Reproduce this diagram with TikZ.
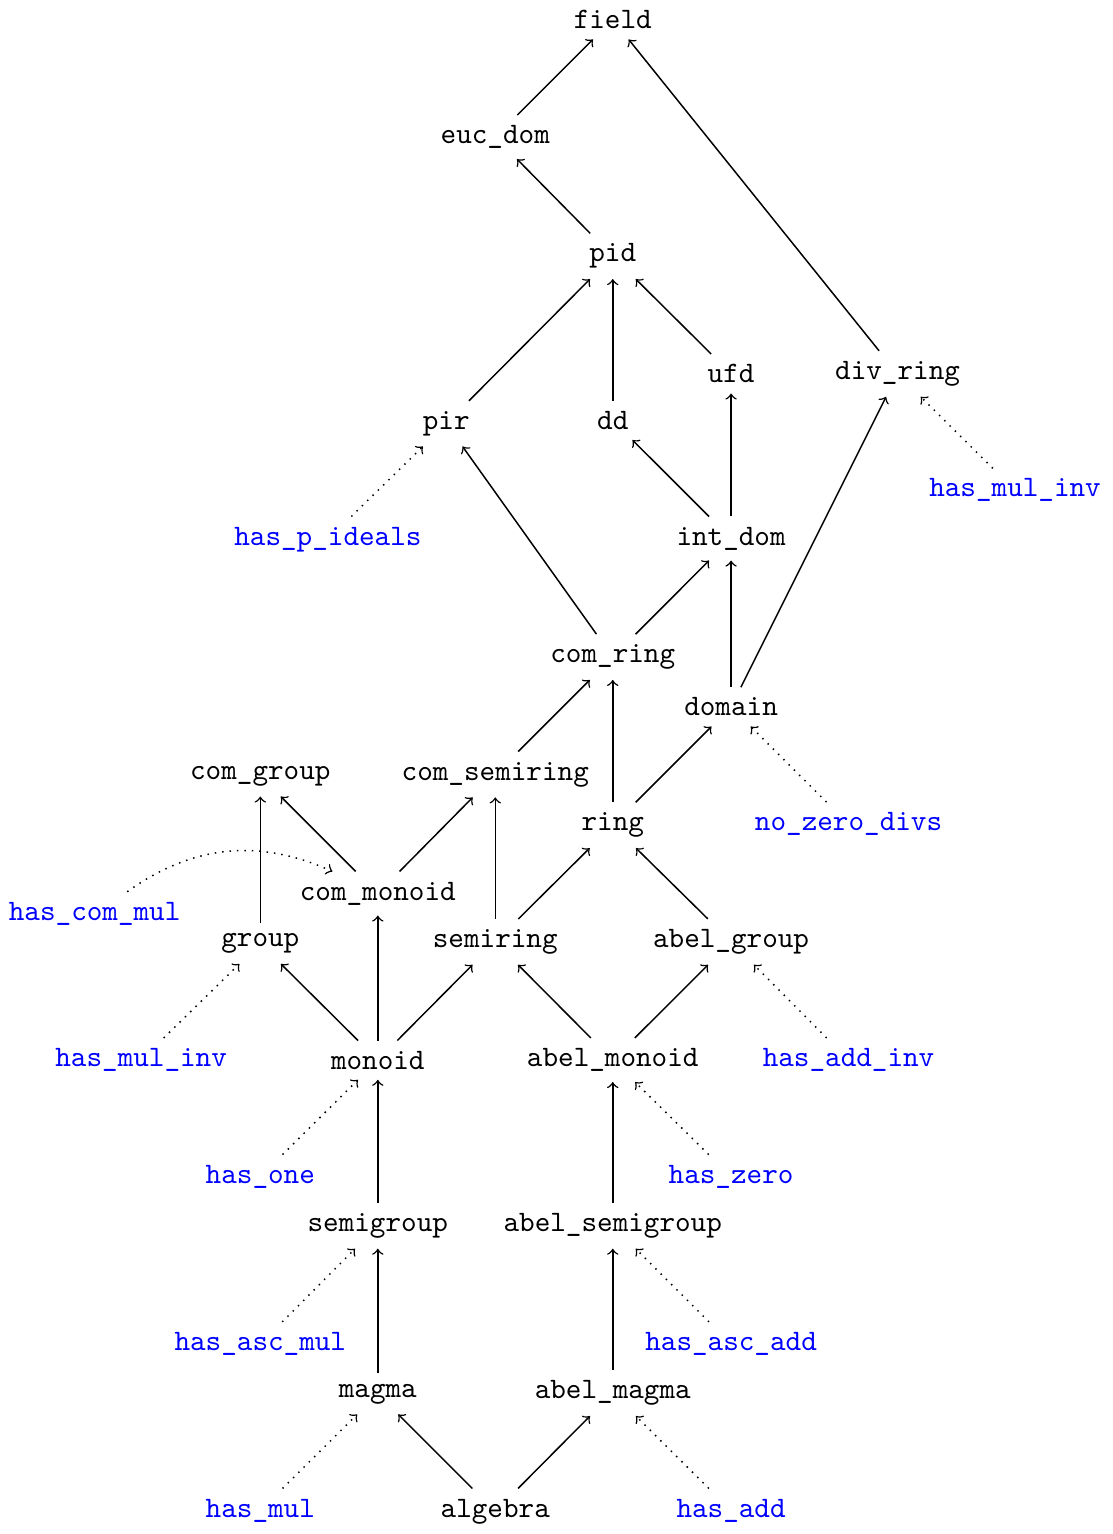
\documentclass[tikz,border=0pt]{standalone}
\usepackage{tikz}
\tikzstyle{cls}=[
font=\ttfamily,
anchor=base
]
\tikzstyle{prop}=[
cls,
text=blue
]
\tikzstyle{arrow}=[
line width=0.5pt,
->
]
\tikzstyle{dotarrow}=[
line width=0.5pt,
->,
dotted
]

\begin{document}
\begin{tikzpicture}

\useasboundingbox (0,0) rectangle (13.16,18.15);

% classes
\node (field) [cls] at (7.25,17.81) {field};
\node (eucdom) [cls] at (5.86,16.45) {euc\_dom};
\node (pid) [cls] at (7.25,15.05) {pid};
\node (ufd) [cls] at (8.65,13.62) {ufd};
\node (divring) [cls] at (10.62,13.66) {div\_ring};
\node (pir) [cls] at (5.28,13.07) {pir};
\node (dd) [cls] at (7.25,13.07) {dd};
\node (intdom) [cls] at (8.65,11.70) {int\_dom};
\node (comring) [cls] at (7.25,10.31) {com\_ring};
\node (domain) [cls] at (8.65,9.68) {domain};
\node (comgroup) [cls] at (3.08,8.93) {com\_group};
\node (comsemiring) [cls] at (5.86,8.92) {com\_semiring};
\node (ring) [cls] at (7.25,8.32) {ring};
\node (commonoid) [cls] at (4.47,7.50) {com\_monoid};
\node (group) [cls] at (3.08,6.95) {group};
\node (semiring) [cls] at (5.86,6.94) {semiring};
\node (abelgroup) [cls] at (8.65,6.94) {abel\_group};
\node (monoid) [cls] at (4.47,5.50) {monoid};
\node (abelmonoid) [cls] at (7.25,5.53) {abel\_monoid};
\node (semigroup) [cls] at (4.47,3.58) {semigroup};
\node (abelsemigroup) [cls] at (7.25,3.58) {abel\_semigroup};
\node (magma) [cls] at (4.47,1.62) {magma};
\node (abelmagma) [cls] at (7.25,1.60) {abel\_magma};
\node (algebra) [cls] at (5.86,0.20) {algebra};

% properties
\node (hasmulinvr) [prop] at (12.01,12.27) {has\_mul\_inv};
\node (haspideals) [prop] at (3.88,11.70) {has\_p\_ideals};
\node (nozerodivs) [prop] at (10.04,8.32) {no\_zero\_divs};
\node (hascommul) [prop] at (1.12,7.26) {has\_com\_mul};
\node (hasmulinvl) [prop] at (1.67,5.53) {has\_mul\_inv};
\node (hasaddinv) [prop] at (10.04,5.53) {has\_add\_inv};
\node (hasone) [prop] at (3.08,4.15) {has\_one};
\node (haszero) [prop] at (8.65,4.15) {has\_zero};
\node (hasascmul) [prop] at (3.08,2.17) {has\_asc\_mul};
\node (hasascadd) [prop] at (8.65,2.17) {has\_asc\_add};
\node (hasmul) [prop] at (3.08,0.20) {has\_mul};
\node (hasadd) [prop] at (8.65,0.20) {has\_add};

\draw [arrow] (eucdom) -- (field);
\draw [arrow] (divring) -- (field);
\draw [arrow] (pid) -- (eucdom);
\draw [arrow] (pir) -- (pid);
\draw [arrow] (dd) -- (pid);
\draw [arrow] (ufd) -- (pid);
\draw [arrow] (comring) -- (pir);
\draw [arrow] (intdom) -- (dd);
\draw [arrow] (intdom) -- (ufd);
\draw [arrow] (domain) -- (divring);
\draw [arrow] (comring) -- (intdom);
\draw [arrow] (domain) -- (intdom);
\draw [arrow] (comsemiring) -- (comring);
\draw [arrow] (ring) -- (comring);
\draw [arrow] (ring) -- (domain);
\draw [arrow] (commonoid) -- (comgroup);
\draw [arrow] (group) -- (comgroup);
\draw [arrow] (commonoid) -- (comsemiring);
\draw [arrow] (semiring) -- (comsemiring);
\draw [arrow] (semiring) -- (ring);
\draw [arrow] (abelgroup) -- (ring);
\draw [arrow] (monoid) -- (group);
\draw [arrow] (monoid) -- (commonoid);
\draw [arrow] (monoid) -- (semiring);
\draw [arrow] (abelmonoid) -- (semiring);
\draw [arrow] (abelmonoid) -- (abelgroup);
\draw [arrow] (semigroup) -- (monoid);
\draw [arrow] (abelsemigroup) -- (abelmonoid);
\draw [arrow] (magma) -- (semigroup);
\draw [arrow] (abelmagma) -- (abelsemigroup);
\draw [arrow] (algebra) -- (magma);
\draw [arrow] (algebra) -- (abelmagma);

\draw [dotarrow] (hasmulinvr) -- (divring);
\draw [dotarrow] (haspideals) -- (pir);
\draw [dotarrow] (nozerodivs) -- (domain);
\draw [dotarrow] (hascommul) to[bend left=30] (commonoid);
\draw [dotarrow] (hasmulinvl) -- (group);
\draw [dotarrow] (hasaddinv) -- (abelgroup);
\draw [dotarrow] (hasone) -- (monoid);
\draw [dotarrow] (haszero) -- (abelmonoid);
\draw [dotarrow] (hasascmul) -- (semigroup);
\draw [dotarrow] (hasascadd) -- (abelsemigroup);
\draw [dotarrow] (hasmul) -- (magma);
\draw [dotarrow] (hasadd) -- (abelmagma);

\end{tikzpicture}
\end{document}
